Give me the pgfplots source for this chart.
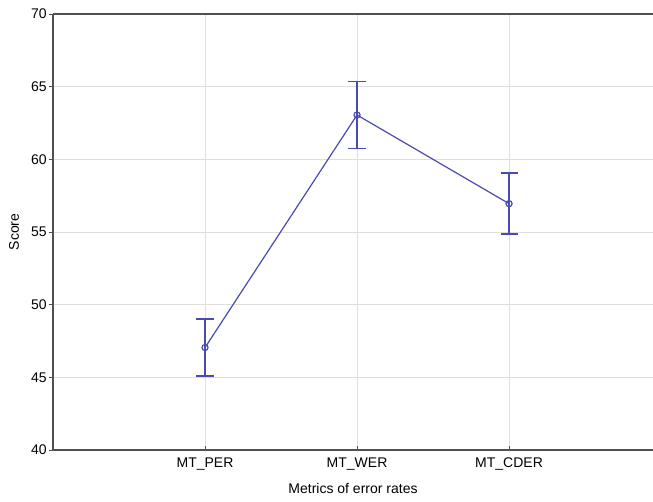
\documentclass[border=0pt]{standalone}
\usepackage{pgfplots}
\pgfplotsset{compat=1.18}
\usepackage{fontspec}
\setmainfont{Liberation Sans}
\definecolor{linecol}{RGB}{72,76,178}
\definecolor{axcol}{RGB}{80,80,80}
\definecolor{gridcol}{RGB}{222,222,222}
\begin{document}
\fontsize{10.5}{12.6}\selectfont
\begin{tikzpicture}
\begin{axis}[
  name=ax,
  scale only axis,
  width=450pt, height=327pt,
  xmin=-1, xmax=2.947,
  ymin=40, ymax=70,
  xtick={0,1,2},
  xticklabels={MT\_PER, MT\_WER, MT\_CDER},
  ytick={40,45,...,70},
  axis x line=box, axis y line=left,
  xtick pos=bottom, ytick pos=left,
  x axis line style={-, axcol, line width=0.9pt},
  y axis line style={-, axcol, line width=0.9pt},
  tick style={axcol, line width=0.6pt},
  tick align=inside,
  y tick style={xshift=-3pt},
  major tick length=3pt,
  grid=major,
  major grid style={gridcol, line width=0.7pt},
  xlabel={Metrics of error rates},
  ylabel={Score},
  tick label style={font=\fontsize{10.5}{12.6}\selectfont},
  label style={font=\fontsize{10.5}{12.6}\selectfont},
  x tick label style={yshift=-2pt},
  y tick label style={xshift=-1pt},
  xlabel style={yshift=-3pt},
  ylabel style={yshift=2pt},
  /pgf/number format/assume math mode=true,
  clip=false,
]
\addplot[
  draw=linecol, line width=0.9pt,
  mark=o, mark size=2.3pt, mark options={draw=linecol, line width=0.9pt},
  error bars/.cd, y dir=both, y explicit,
  error mark options={rotate=90, mark size=6.4pt, line width=1.1pt, draw=linecol},
  error bar style={line width=1.1pt, draw=linecol},
] coordinates {
  (0,47.05) +- (0,1.95)
  (1,63.05) +- (0,2.3)
  (2,56.95) +- (0,2.1)
};
\end{axis}
\pgfresetboundingbox
\path (ax.south west) ++(-39.75pt,-39pt) coordinate (bl);
\path (ax.north east) ++(0pt,10.5pt) coordinate (tr);
\useasboundingbox (bl) rectangle (tr);
\end{tikzpicture}
\end{document}
